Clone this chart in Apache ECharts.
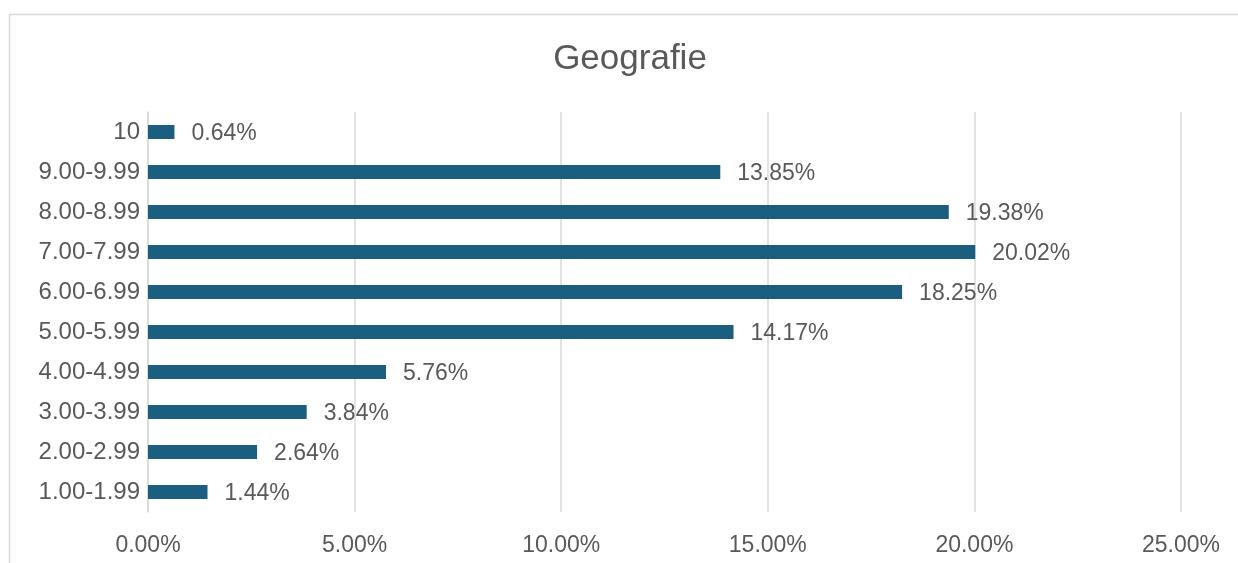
<!DOCTYPE html>
<html>
<head>
<meta charset="utf-8">
<script src="https://cdn.jsdelivr.net/npm/echarts@6/dist/echarts.min.js"></script>
<style>
  html, body { margin: 0; padding: 0; background: #fff; }
  #chart { width: 1238px; height: 563px; }
</style>
</head>
<body>
<div id="chart"></div>
<script>
// score bands, bottom to top as Excel draws them
const categories = ["1.00-1.99", "2.00-2.99", "3.00-3.99", "4.00-4.99", "5.00-5.99",
  "6.00-6.99", "7.00-7.99", "8.00-8.99", "9.00-9.99", "10"];
const shares = [1.44, 2.64, 3.84, 5.76, 14.17, 18.25, 20.02, 19.38, 13.85, 0.64];
const xTicks = [0, 5, 10, 15, 20, 25];

const textColor = "#595959";
const fontFamily = "'Liberation Sans', Arial, sans-serif";

const chart = echarts.init(document.getElementById("chart"));

chart.setOption({
  animation: false,
  title: {
    text: "Geografie",
    left: 625,
    top: 37,
    textAlign: "center",
    textStyle: { color: textColor, fontSize: 35, fontWeight: "normal", fontFamily },
  },
  graphic: [
    {
      type: "rect",
      shape: { x: 9.5, y: 14.5, width: 1400, height: 700 },
      style: { fill: "none", stroke: "#d9d9d9", lineWidth: 1.5 },
      silent: true,
    },
  ],
  grid: { left: 148, right: 57, top: 112, bottom: 51, containLabel: false },
  xAxis: {
    type: "value",
    min: xTicks[0],
    max: xTicks[xTicks.length - 1],
    interval: 5,
    axisLine: { show: false },
    axisTick: { show: false },
    splitLine: { lineStyle: { color: "#d9d9d9", width: 1.5 } },
    axisLabel: {
      color: textColor,
      fontSize: 23,
      fontFamily,
      margin: 22,
      formatter: (v) => v.toFixed(2) + "%",
    },
  },
  yAxis: {
    type: "category",
    data: categories,
    axisLine: { lineStyle: { color: "#d9d9d9", width: 1.5 } },
    axisTick: { show: false },
    axisLabel: { color: textColor, fontSize: 24, fontFamily, margin: 8, padding: [3, 0, 0, 0] },
  },
  series: [
    {
      type: "bar",
      data: shares,
      barWidth: 14,
      itemStyle: { color: "#1b5e80" },
      label: {
        show: true,
        position: "right",
        distance: 17,
        color: textColor,
        fontSize: 23,
        fontFamily,
        offset: [0, 2],
        formatter: (p) => p.value.toFixed(2) + "%",
      },
    },
  ],
});
</script>
</body>
</html>
